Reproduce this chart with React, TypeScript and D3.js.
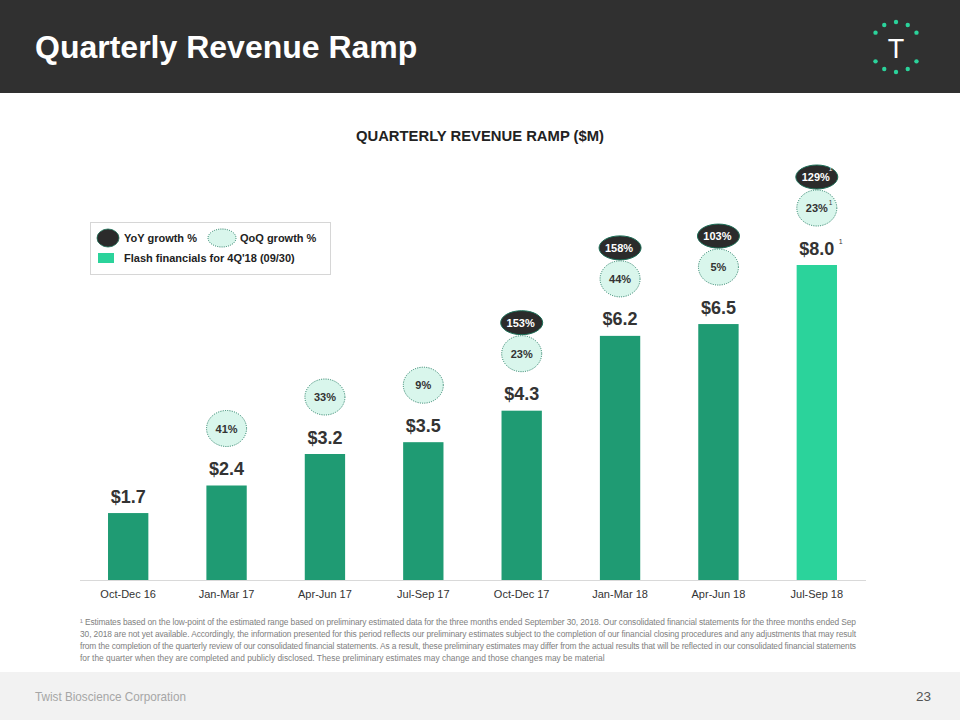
import React from "react";
import * as d3 from "d3";

const categories = ["Oct-Dec 16", "Jan-Mar 17", "Apr-Jun 17", "Jul-Sep 17", "Oct-Dec 17", "Jan-Mar 18", "Apr-Jun 18", "Jul-Sep 18"];
const revenue = [1.7, 2.4, 3.2, 3.5, 4.3, 6.2, 6.5, 8.0];
const revenueLabels = ["$1.7", "$2.4", "$3.2", "$3.5", "$4.3", "$6.2", "$6.5", "$8.0"];
const qoq = [null, "41%", "33%", "9%", "23%", "44%", "5%", "23%"];
const yoy = [null, null, null, null, "153%", "158%", "103%", "129%"];
const flash = [false, false, false, false, false, false, false, true];

const footnote = [
  "\u00B9 Estimates based on the low-point of the estimated range based on preliminary estimated data for the three months ended September 30, 2018. Our consolidated financial statements for the three months ended Sep",
  "30, 2018 are not yet available. Accordingly, the information presented for this period reflects our preliminary estimates subject to the completion of our financial closing procedures and any adjustments that may result",
  "from the completion of the quarterly review of our consolidated financial statements. As a result, these preliminary estimates may differ from the actual results that will be reflected in our consolidated financial statements",
  "for the quarter when they are completed and publicly disclosed. These preliminary estimates may change and those changes may be material",
];

const logoDotAngles = [-90, -62, -118, -35, -145, 90, 62, 118, 35, 145];

const FONT = "'Liberation Sans', Arial, Helvetica, sans-serif";
const BAR = "#1f9b73";
const FLASH = "#2bd39b";
const LIGHT = "#d9f6ec";
const DARK = "#2b2b2b";

export default function App() {
  const W = 960, H = 720;
  const baseY = 580;
  const x = d3.scaleBand().domain(categories).range([79, 866]).paddingInner(0.59).paddingOuter(0.295);
  const y = d3.scaleLinear().domain([0, 8]).range([baseY, 265]);

  return (
    <div style={{ position: "fixed", left: 0, top: 0, width: W, height: H }}>
      <svg width={W} height={H} style={{ display: "block", fontFamily: FONT }}>
        <rect x={0} y={0} width={W} height={H} fill="#ffffff" />
        {/* header */}
        <rect x={0} y={0} width={W} height={93} fill="#303030" />
        <text x={35} y={58} fill="#ffffff" fontSize={32} fontWeight="bold">Quarterly Revenue Ramp</text>
        {logoDotAngles.map((a, i) => (
          <circle key={i} cx={896 + 25 * Math.cos((a * Math.PI) / 180)} cy={47 + 25 * Math.sin((a * Math.PI) / 180)} r={2.2} fill={FLASH} />
        ))}
        <text x={896} y={58} fill="#ffffff" fontSize={27} textAnchor="middle">T</text>

        {/* chart title */}
        <text x={480} y={141} fontSize={14.8} fontWeight="bold" fill="#222" textAnchor="middle">QUARTERLY REVENUE RAMP ($M)</text>

        {/* legend */}
        <rect x={90.5} y={222.5} width={240} height={52} fill="#fff" stroke="#d6d6d6" strokeWidth={1} />
        <ellipse cx={108} cy={238} rx={11} ry={9} fill={DARK} stroke="#1a6e56" strokeWidth={0.8} />
        <text x={124} y={242} fontSize={11} fontWeight="bold" fill="#222">YoY growth %</text>
        <ellipse cx={222} cy={238} rx={14} ry={9} fill={LIGHT} stroke="#1f7a60" strokeWidth={1} strokeDasharray="1 1.2" />
        <text x={240} y={242} fontSize={11} fontWeight="bold" fill="#222">QoQ growth %</text>
        <rect x={98} y={253} width={16} height={10} fill={FLASH} />
        <text x={124} y={262} fontSize={11} fontWeight="bold" fill="#222">Flash financials for 4Q'18 (09/30)</text>

        {/* axis line */}
        <line x1={80} x2={866} y1={baseY + 0.5} y2={baseY + 0.5} stroke="#d9d9d9" strokeWidth={1} />

        {categories.map((c, i) => {
          const bx = x(c) as number;
          const bw = x.bandwidth();
          const cx = bx + bw / 2;
          const top = y(revenue[i]);
          const labelY = top - 17;
          const lightY = labelY - 40;
          const darkY = lightY - 31;
          return (
            <g key={c}>
              <rect x={bx} y={top} width={bw} height={baseY - top} fill={flash[i] ? FLASH : BAR} />
              <text x={cx} y={labelY + 6.5} fontSize={18} fontWeight="bold" fill="#333" textAnchor="middle">{revenueLabels[i]}</text>
              {flash[i] && <text x={cx + 22} y={labelY - 4} fontSize={7} fill="#333">1</text>}
              <text x={cx} y={594 + 4} fontSize={11} fill="#333" textAnchor="middle">{c}</text>
              {qoq[i] && (
                <g>
                  <ellipse cx={cx} cy={lightY} rx={20} ry={18} fill={LIGHT} stroke="#1f7a60" strokeWidth={1} strokeDasharray="1 1.3" />
                  <text x={cx} y={lightY + 4} fontSize={11} fontWeight="bold" fill="#333" textAnchor="middle">{qoq[i]}</text>
                  {flash[i] && <text x={cx + 12} y={lightY - 3} fontSize={6.5} fill="#333">1</text>}
                </g>
              )}
              {yoy[i] && (
                <g>
                  <ellipse cx={cx} cy={darkY} rx={21} ry={12} fill={DARK} stroke="#1a6e56" strokeWidth={1} />
                  <text x={cx - 1} y={darkY + 4} fontSize={11} fontWeight="bold" fill="#ffffff" textAnchor="middle">{yoy[i]}</text>
                  {flash[i] && <text x={cx + 12} y={darkY - 6} fontSize={6.5} fill="#ffffff">1</text>}
                </g>
              )}
            </g>
          );
        })}

        {/* footnote */}
        {footnote.map((l, i) => (
          <text key={i} x={80} y={625 + i * 12} fontSize={8.4} fill="#808080"
            {...(i < footnote.length - 1 ? { textLength: 776, lengthAdjust: "spacing" } : {})}>{l}</text>
        ))}

        {/* footer */}
        <rect x={0} y={672} width={W} height={48} fill="#f2f2f2" />
        <text x={35} y={701} fontSize={13.5} fill="#a6a6a6" textLength={151} lengthAdjust="spacingAndGlyphs">Twist Bioscience Corporation</text>
        <text x={931} y={701} fontSize={13.5} fill="#555" textAnchor="end">23</text>
      </svg>
    </div>
  );
}
